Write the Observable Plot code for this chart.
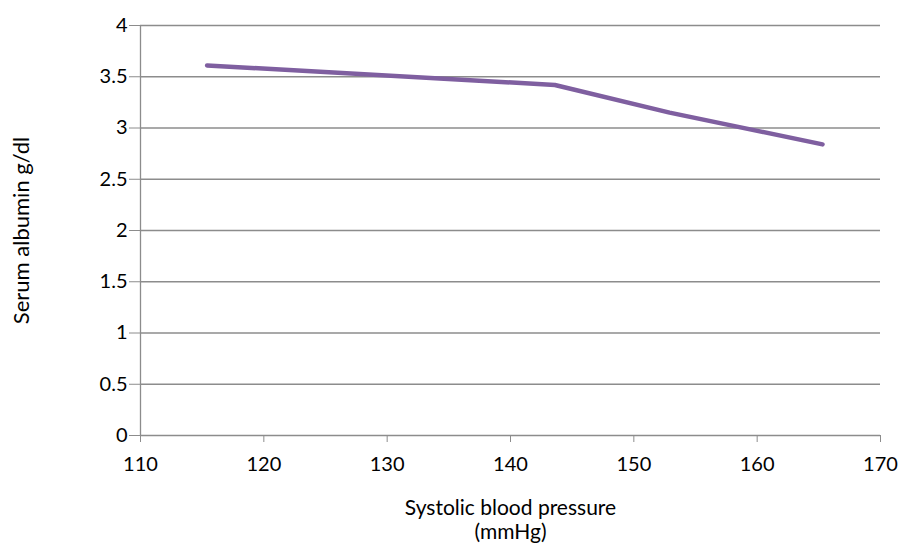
<!DOCTYPE html>
<html><head><meta charset="utf-8">
<script src="https://cdn.jsdelivr.net/npm/d3@7"></script>
<script src="https://cdn.jsdelivr.net/npm/@observablehq/plot@0.6"></script>
<style>body{margin:0;background:#fff}</style>
</head><body><div id="chart"></div>
<script>
const sbp = [115.4, 143.6, 152.9, 165.3];
const albumin = [3.61, 3.42, 3.15, 2.84];
const xTicks = [110, 120, 130, 140, 150, 160, 170];
const yTicks = [0, 0.5, 1, 1.5, 2, 2.5, 3, 3.5, 4];
const xTitle = "Systolic blood pressure\n(mmHg)";
const yTitle = "Serum albumin g/dl";
const data = sbp.map((x, i) => ({x, y: albumin[i]}));
const gray = "#8c8c8c";
const chart = Plot.plot({
  width: 900, height: 548,
  marginLeft: 140, marginRight: 20, marginTop: 25, marginBottom: 113,
  style: {fontFamily: "Lato, 'Open Sans', sans-serif", fontSize: "20px", color: "#000", background: "#fff"},
  x: {domain: [110, 170], ticks: xTicks, label: null},
  y: {domain: [0, 4], ticks: yTicks, label: null},
  marks: [
    Plot.ruleY(yTicks, {stroke: gray, strokeWidth: 1.3}),
    Plot.ruleX([110], {stroke: gray, strokeWidth: 1.3}),
    Plot.axisY({ticks: yTicks, tickSize: 11, tickPadding: 2, stroke: gray, tickFormat: d => String(d), fontSize: 20}),
    Plot.axisX({ticks: xTicks, tickSize: 7, tickPadding: 14, stroke: gray, tickFormat: d => String(d), fontSize: 20}),
    Plot.line(data, {x: "x", y: "y", stroke: "#7f5fa0", strokeWidth: 4.5, curve: "linear"}),
    Plot.text([xTitle], {frameAnchor: "bottom", lineAnchor: "top", dy: 62, text: d => d, fontSize: 21, lineHeight: 1.15}),
    Plot.text([yTitle], {frameAnchor: "left", textAnchor: "middle", dx: -119, rotate: -90, text: d => d, fontSize: 22})
  ]
});
document.getElementById("chart").append(chart);
</script></body></html>
